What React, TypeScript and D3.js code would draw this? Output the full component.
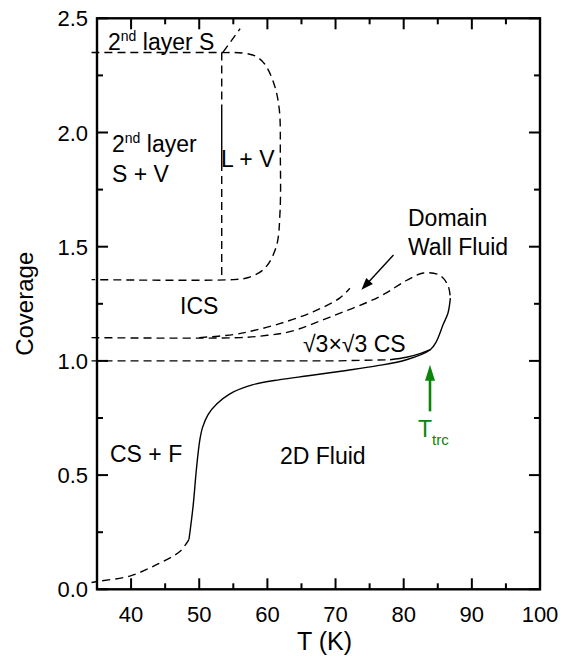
import React from "react";
import * as d3 from "d3";

const W = 562;
const H = 670;
const PLOT = { left: 97, right: 540, top: 18.3, bottom: 589.3 };

const xDomain = [35, 100];
const yDomain = [0, 2.5];
const xTicksMajor = [40, 50, 60, 70, 80, 90, 100];
const xTicksMinor = [45, 55, 65, 75, 85, 95];
const yTicksMajor = [0, 0.5, 1.0, 1.5, 2.0, 2.5];
const yTicksMinor = [0.25, 0.75, 1.25, 1.75, 2.25];

// [T (K), coverage]
const secondLayerBox: [number, number][] = [
  [34.2, 2.35], [53.3, 2.35], [56.4, 2.348], [58.2, 2.335], [59.6, 2.3], [61.0, 2.21],
  [61.75, 2.1], [61.9, 1.9], [61.85, 1.65], [61.3, 1.5], [59.6, 1.405], [57.2, 1.365],
  [55.0, 1.356], [34.2, 1.356],
];
const secondLayerSplitTop: [number, number][] = [[53.3, 2.35], [53.3, 2.12]];
const secondLayerSplitSolid: [number, number][] = [[53.3, 2.12], [53.3, 1.867]];
const secondLayerSplitBottom: [number, number][] = [[53.3, 1.867], [53.3, 1.356]];
const secondLayerSolidEdge: [number, number][] = [[53.5, 2.352], [56.0, 2.455]];

const icsUpper: [number, number][] = [
  [50.0, 1.102], [55.0, 1.115], [58.0, 1.133], [61.8, 1.163], [66.7, 1.215],
  [70.6, 1.275], [72.1, 1.318],
];
const icsLowerDashed: [number, number][] = [
  [34.2, 1.102], [56.0, 1.102], [60.0, 1.112], [63.3, 1.128], [69.2, 1.192],
  [76.5, 1.282], [80.4, 1.352], [82.9, 1.385], [85.3, 1.375], [86.5, 1.33], [86.85, 1.275],
];
const fluidSolid: [number, number][] = [
  [86.85, 1.275], [86.5, 1.21], [85.8, 1.16], [84.8, 1.085], [83.9, 1.049],
  [80.4, 1.005], [76.0, 0.978], [71.6, 0.958], [66.0, 0.935], [61.85, 0.918],
  [57.9, 0.896], [54.5, 0.856], [52.6, 0.812], [51.3, 0.765], [50.5, 0.71],
  [50.1, 0.656], [49.6, 0.53], [49.1, 0.364], [48.5, 0.219],
];
const fluidDashed: [number, number][] = [
  [48.5, 0.219], [47.2, 0.167], [43.8, 0.109], [39.8, 0.058], [35.4, 0.036], [34.2, 0.03],
];
const csDashed: [number, number][] = [[34.2, 1.0], [70.0, 1.0], [78.0, 1.005]];
const csSolid: [number, number][] = [[78.0, 1.005], [80.4, 1.016], [82.4, 1.032], [83.9, 1.049]];

const wallArrow: [number, number][] = [[78.5, 1.464], [73.8, 1.311]];
const trcArrow: [number, number][] = [[83.86, 0.779], [83.86, 0.983]];

const FONT = "'Liberation Sans', Arial, Helvetica, sans-serif";
const GREEN = "#0a850a";

export default function App() {
  const x = d3.scaleLinear().domain(xDomain).range([PLOT.left, PLOT.right]);
  const y = d3.scaleLinear().domain(yDomain).range([PLOT.bottom, PLOT.top]);
  const line = d3
    .line<[number, number]>()
    .x((d) => x(d[0]))
    .y((d) => y(d[1]))
    .curve(d3.curveCatmullRom.alpha(0.5));
  const straight = d3
    .line<[number, number]>()
    .x((d) => x(d[0]))
    .y((d) => y(d[1]));

  const dash = "8,5";
  const lw = 1.4;

  const arrowHead = (pts: [number, number][], len: number, half: number) => {
    const [x0, y0] = [x(pts[0][0]), y(pts[0][1])];
    const [x1, y1] = [x(pts[1][0]), y(pts[1][1])];
    const dx = x1 - x0, dy = y1 - y0;
    const L = Math.hypot(dx, dy);
    const ux = dx / L, uy = dy / L;
    const bx = x1 - ux * len, by = y1 - uy * len;
    const px = -uy, py = ux;
    return {
      line: [x0, y0, bx + ux * 2, by + uy * 2],
      poly: `${x1},${y1} ${bx + px * half},${by + py * half} ${bx - px * half},${by - py * half}`,
    };
  };
  const a1 = arrowHead(wallArrow, 12, 4.5);
  const a2 = arrowHead(trcArrow, 16, 5);

  const ts = 23;

  return (
    <svg
      width={W}
      height={H}
      style={{ position: "absolute", left: 0, top: 0, background: "#fff" }}
      fontFamily={FONT}
    >
      <rect x={0} y={0} width={W} height={H} fill="#fff" />
      {/* curves */}
      <g fill="none" stroke="#000" strokeWidth={lw}>
        <path d={line(secondLayerBox) || ""} strokeDasharray={dash} />
        <path d={straight(secondLayerSplitTop) || ""} strokeDasharray={dash} />
        <path d={straight(secondLayerSplitSolid) || ""} />
        <path d={straight(secondLayerSplitBottom) || ""} strokeDasharray={dash} />
        <path d={straight(secondLayerSolidEdge) || ""} strokeDasharray={dash} />
        <path d={line(icsUpper) || ""} strokeDasharray={dash} />
        <path d={line(icsLowerDashed) || ""} strokeDasharray={dash} />
        <path d={line(fluidSolid) || ""} />
        <path d={line(fluidDashed) || ""} strokeDasharray={dash} />
        <path d={straight(csDashed) || ""} strokeDasharray={dash} />
        <path d={line(csSolid) || ""} />
      </g>

      {/* arrows */}
      <line x1={a1.line[0]} y1={a1.line[1]} x2={a1.line[2]} y2={a1.line[3]} stroke="#000" strokeWidth={1.4} />
      <polygon points={a1.poly} fill="#000" />
      <line x1={a2.line[0]} y1={a2.line[1]} x2={a2.line[2]} y2={a2.line[3]} stroke={GREEN} strokeWidth={2.6} />
      <polygon points={a2.poly} fill={GREEN} />

      {/* frame */}
      <rect
        x={PLOT.left}
        y={PLOT.top}
        width={PLOT.right - PLOT.left}
        height={PLOT.bottom - PLOT.top}
        fill="none"
        stroke="#000"
        strokeWidth={2.4}
      />
      <g stroke="#000" strokeWidth={2}>
        {xTicksMajor.map((t) => (
          <g key={"xM" + t}>
            <line x1={x(t)} x2={x(t)} y1={PLOT.bottom} y2={PLOT.bottom - 11} />
            <line x1={x(t)} x2={x(t)} y1={PLOT.top} y2={PLOT.top + 11} />
          </g>
        ))}
        {xTicksMinor.map((t) => (
          <g key={"xm" + t}>
            <line x1={x(t)} x2={x(t)} y1={PLOT.bottom} y2={PLOT.bottom - 6} />
            <line x1={x(t)} x2={x(t)} y1={PLOT.top} y2={PLOT.top + 6} />
          </g>
        ))}
        {yTicksMajor.map((t) => (
          <g key={"yM" + t}>
            <line x1={PLOT.left} x2={PLOT.left + 11} y1={y(t)} y2={y(t)} />
            <line x1={PLOT.right} x2={PLOT.right - 11} y1={y(t)} y2={y(t)} />
          </g>
        ))}
        {yTicksMinor.map((t) => (
          <g key={"ym" + t}>
            <line x1={PLOT.left} x2={PLOT.left + 6} y1={y(t)} y2={y(t)} />
            <line x1={PLOT.right} x2={PLOT.right - 6} y1={y(t)} y2={y(t)} />
          </g>
        ))}
      </g>

      {/* tick labels */}
      <g fontSize={22} fill="#000">
        {xTicksMajor.map((t) => (
          <text key={"xl" + t} x={x(t)} y={PLOT.bottom + 33} textAnchor="middle">
            {t}
          </text>
        ))}
        {yTicksMajor.map((t) => (
          <text key={"yl" + t} x={PLOT.left - 9} y={y(t) + 8} textAnchor="end">
            {t.toFixed(1)}
          </text>
        ))}
      </g>

      {/* axis titles */}
      <text x={(PLOT.left + PLOT.right) / 2 + 6} y={650} textAnchor="middle" fontSize={25}>
        T (K)
      </text>
      <text
        transform={`translate(33,${(PLOT.top + PLOT.bottom) / 2}) rotate(-90)`}
        textAnchor="middle"
        fontSize={24}
      >
        Coverage
      </text>

      {/* region labels */}
      <g fontSize={ts} fill="#000">
        <text x={108} y={50}>
          2<tspan fontSize={14} dy={-9}>nd</tspan>
          <tspan dy={9}> layer S</tspan>
        </text>
        <text x={112} y={152}>
          2<tspan fontSize={14} dy={-9}>nd</tspan>
          <tspan dy={9}> layer</tspan>
        </text>
        <text x={112} y={182}>S + V</text>
        <text x={221} y={167}>L + V</text>
        <text x={180} y={314}>ICS</text>
        <text x={408} y={226}>Domain</text>
        <text x={408} y={255}>Wall Fluid</text>
        <text x={303} y={352}>√3×√3 CS</text>
        <text x={110} y={462}>CS + F</text>
        <text x={280} y={464}>2D Fluid</text>
        <text x={418} y={437} fill={GREEN}>
          T<tspan fontSize={15} dy={8}>trc</tspan>
        </text>
      </g>
    </svg>
  );
}
